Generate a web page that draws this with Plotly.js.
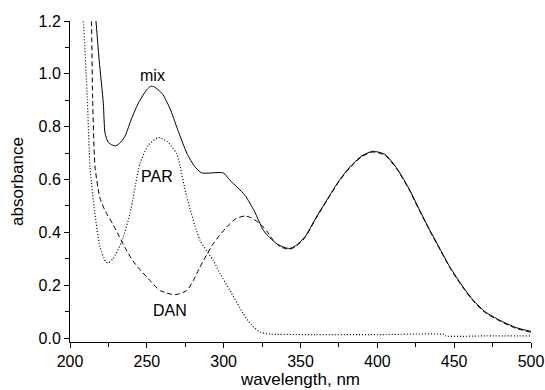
<!DOCTYPE html>
<html>
<head>
<meta charset="utf-8">
<script src="https://cdn.plot.ly/plotly-3.0.1.min.js"></script>
<style>html,body{margin:0;padding:0;background:#fff}#chart{width:545px;height:390px}</style>
</head>
<body>
<div id="chart"></div>
<script>
// mix (solid)
var mixX = [213, 216.9, 219, 221.7, 222.8, 225, 229.3, 232, 235.8, 240, 245, 250, 252.5, 255, 260, 265, 270, 276, 281, 285.7, 299.8, 304.1, 309, 313.9, 320, 325.8, 330, 335, 340, 343, 347, 352.9, 360, 369, 375, 382.2, 390, 397, 405, 413, 421.2, 427, 434.2, 441, 447.2, 455, 462.4, 470, 479.8, 490, 500];
var mixY = [1.45, 1.2, 1.05, 0.888, 0.775, 0.74, 0.727, 0.735, 0.764, 0.83, 0.895, 0.94, 0.953, 0.95, 0.925, 0.87, 0.79, 0.70, 0.65, 0.625, 0.625, 0.597, 0.57, 0.54, 0.48, 0.408, 0.38, 0.355, 0.342, 0.339, 0.35, 0.383, 0.455, 0.54, 0.595, 0.648, 0.69, 0.707, 0.695, 0.64, 0.559, 0.49, 0.408, 0.335, 0.269, 0.2, 0.143, 0.1, 0.067, 0.04, 0.025];

// PAR (dotted)
var parX = [207, 208.7, 211.3, 213, 216, 219.5, 223.4, 225, 228, 233.6, 239, 245.5, 251, 257.5, 263, 269.4, 271.6, 276, 284.6, 293.2, 298, 304.1, 312.8, 318, 323.6, 330, 334.5, 360, 400, 443.9, 444.5, 470, 500];
var parY = [1.3, 1.197, 0.90, 0.648, 0.48, 0.345, 0.288, 0.285, 0.30, 0.364, 0.47, 0.66, 0.73, 0.759, 0.745, 0.698, 0.65, 0.534, 0.37, 0.294, 0.24, 0.18, 0.092, 0.05, 0.023, 0.015, 0.014, 0.013, 0.013, 0.013, 0.008, 0.008, 0.008];

// DAN (dashed)
var danX = [213, 214, 214.7, 216.3, 219.5, 223, 228, 232, 236, 240, 245, 250, 258.6, 268.3, 276, 280, 284.6, 293.2, 301.9, 308, 313.9, 318, 323.6, 328, 332.3, 337, 343, 347, 352.9, 360, 369, 375, 382.2, 390, 397, 405, 413, 421.2, 427, 434.2, 441, 447.2, 455, 462.4, 470, 479.8, 490, 500];
var danY = [1.35, 1.197, 0.913, 0.648, 0.53, 0.48, 0.43, 0.385, 0.34, 0.30, 0.262, 0.231, 0.18, 0.164, 0.18, 0.215, 0.269, 0.357, 0.42, 0.452, 0.462, 0.455, 0.433, 0.405, 0.37, 0.345, 0.336, 0.347, 0.38, 0.452, 0.537, 0.592, 0.645, 0.687, 0.704, 0.692, 0.637, 0.556, 0.487, 0.405, 0.332, 0.266, 0.197, 0.140, 0.097, 0.064, 0.037, 0.022];

var labels = ["mix", "PAR", "DAN"];
var labelX = [254, 256.4, 265];
var labelY = [0.994, 0.61, 0.105];

var FONT = "Liberation Sans, Arial, sans-serif";
var traces = [
  {x: mixX, y: mixY, mode: "lines", line: {color: "#000", width: 1, shape: "spline", smoothing: 0.6}, hoverinfo: "none"},
  {x: parX, y: parY, mode: "lines", line: {color: "#000", width: 1.2, dash: "1px,2px", shape: "spline", smoothing: 0.6}, hoverinfo: "none"},
  {x: danX, y: danY, mode: "lines", line: {color: "#000", width: 1, dash: "5px,3px", shape: "spline", smoothing: 0.6}, hoverinfo: "none"}
];

var annotations = labels.map(function (t, i) {
  return {x: labelX[i], y: labelY[i], text: t, showarrow: false, xref: "x", yref: "y",
          font: {family: FONT, size: 16, color: "#000"}};
});

var layout = {
  width: 545, height: 390,
  margin: {l: 70, r: 14, t: 21, b: 48},
  paper_bgcolor: "#fff", plot_bgcolor: "#fff",
  showlegend: false,
  font: {family: FONT, size: 16, color: "#000"},
  xaxis: {
    range: [200, 500], showgrid: false, zeroline: false,
    showline: true, linecolor: "#000", linewidth: 1,
    ticks: "outside", ticklen: 5, tickwidth: 1, tickcolor: "#000",
    tickvals: [200, 250, 300, 350, 400, 450, 500],
    minor: {dtick: 25, tick0: 200, ticks: "outside", ticklen: 4, tickwidth: 1, tickcolor: "#000", showgrid: false},
    tickfont: {size: 16},
    title: {text: "wavelength, nm", font: {size: 17}, standoff: 1}
  },
  yaxis: {
    range: [-0.015, 1.2], showgrid: false, zeroline: false,
    showline: true, linecolor: "#000", linewidth: 1,
    ticks: "outside", ticklen: 5, tickwidth: 1, tickcolor: "#000",
    tickvals: [0, 0.2, 0.4, 0.6, 0.8, 1.0, 1.2], tickformat: ".1f",
    minor: {dtick: 0.1, tick0: 0, ticks: "outside", ticklen: 4, tickwidth: 1, tickcolor: "#000", showgrid: false},
    tickfont: {size: 16},
    title: {text: "absorbance", font: {size: 17}, standoff: 10}
  },
  annotations: annotations
};

Plotly.newPlot("chart", traces, layout, {staticPlot: true, displayModeBar: false});
</script>
</body>
</html>
